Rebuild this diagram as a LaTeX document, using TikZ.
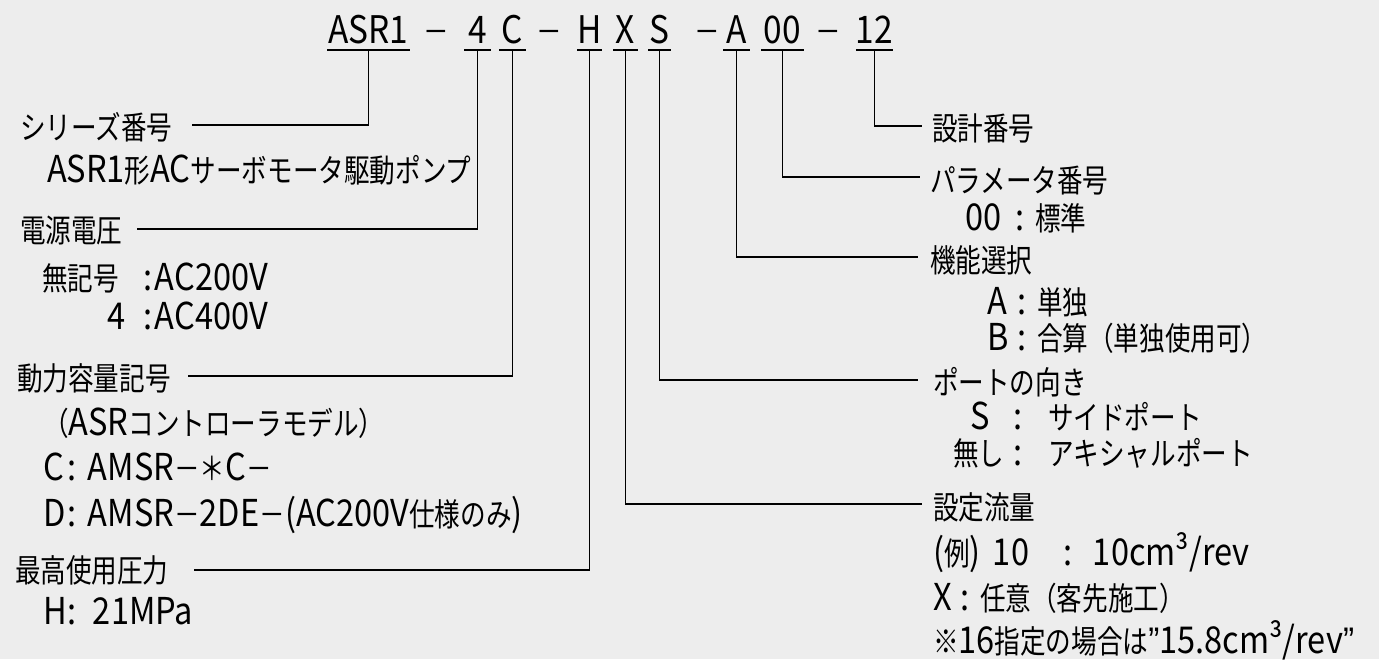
\documentclass[tikz,border=0pt]{standalone}
\usepackage{fontspec}
\setmainfont{Noto Sans CJK JP}[FakeStretch=0.88]
\newfontfamily\jpfam{Noto Sans CJK JP}[FakeStretch=0.8]
\newfontfamily\libfam{Liberation Sans}[FakeStretch=0.9]
\newcommand\J[1]{{\jpfam\fontsize{32}{32}\selectfont #1}}
\newcommand\Qt{{\libfam ”}}
\newcommand\Cl[1]{\makebox[0pt]{:}\hspace{#1}}
\begin{document}
\begin{tikzpicture}[x=1pt,y=-1pt,
  t/.style={inner sep=0pt, outer sep=0pt, anchor=base west, font=\fontsize{37}{37}\selectfont},
  hd/.style={inner sep=0pt, outer sep=0pt, anchor=base, font=\fontsize{38}{38}\selectfont, text height=28pt, text depth=7pt},
  ln/.style={line width=1.4pt, black},
]
\fill[black!7] (0,0) rectangle (1379,659);
\useasboundingbox (0,0) rectangle (1379,659);

% header
\node[hd, minimum width=83pt] (hA) at (368.5,43) {ASR1};
\node[hd] (d1) at (436,43) {\J{－}};
\node[hd, minimum width=27pt] (h4) at (477.5,43) {4};
\node[hd, minimum width=27pt] (hC) at (512.5,43) {C};
\node[hd] (d2) at (549.5,43) {\J{－}};
\node[hd, minimum width=23pt] (hH) at (589.5,43) {H};
\node[hd, minimum width=25pt] (hX) at (625.5,43) {X};
\node[hd, minimum width=23pt] (hS) at (659.5,43) {S};
\node[hd] (d3) at (707.5,43) {\J{－}};
\node[hd, minimum width=27pt] (hAA) at (736.5,43) {A};
\node[hd, minimum width=43pt] (h00) at (782.5,43) {00};
\node[hd] (d4) at (828.5,43) {\J{－}};
\node[hd, minimum width=37pt] (h12) at (874.5,43) {12};
\foreach \n in {hA,h4,hC,hH,hX,hS,hAA,h00,h12}
  \draw[ln] (\n.south west) -- (\n.south east);

% left labels
\node[t] (L1) at (20,139) {\J{シリーズ番号}};
\node[t] (L1a) at (47,182) {ASR1\J{形}AC\J{サーボモータ駆動ポンプ}};
\node[t] (L2) at (20,242) {\J{電源電圧}};
\node[t] (L2a) at (42,290) {\makebox[106pt][l]{\J{無記号}}\Cl{7pt}AC200V};
\node[t] (L2b) at (107,329) {\makebox[41pt][l]{4}\Cl{7pt}AC400V};
\node[t] (L3) at (17,390) {\J{動力容量記号}};
\node[t] (L3a) at (43,435) {\J{（}ASR\J{コントローラモデル）}};
\node[t] (L3b) at (43,480) {\makebox[29pt][l]{C}\Cl{16pt}AMSR\J{－＊}C\J{－}};
\node[t] (L3c) at (43,526) {\makebox[29pt][l]{D}\Cl{16pt}AMSR\J{－}2DE\J{－}(AC200V\J{仕様のみ})};
\node[t] (L4) at (15,582) {\J{最高使用圧力}};
\node[t] (L4a) at (43,624) {\makebox[29pt][l]{H}\Cl{21pt}21MPa};

% right labels
\node[t] (R1) at (932,140) {\J{設計番号}};
\node[t] (R2) at (930,192) {\J{パラメータ番号}};
\node[t] (R2a) at (965,230) {\makebox[55pt][l]{00}\Cl{15pt}\J{標準}};
\node[t] (R3) at (930,272) {\J{機能選択}};
\node[t] (R3a) at (987,314) {\makebox[35pt][l]{A}\Cl{15pt}\J{単独}};
\node[t] (R3b) at (987,350) {\makebox[35pt][l]{B}\Cl{15pt}\J{合算（単独使用可）}};
\node[t] (R4) at (933,394) {\J{ポートの向き}};
\node[t] (R4a) at (970,429) {\makebox[48pt][l]{S}\Cl{30pt}\J{サイドポート}};
\node[t] (R4b) at (953,465) {\makebox[65pt][l]{\J{無し}}\Cl{30pt}\J{アキシャルポート}};
\node[t] (R5) at (933,519) {\J{設定流量}};
\node[t] (R5a) at (933,565) {\makebox[60pt][l]{(\J{例})}\makebox[75pt][l]{10}\Cl{25pt}10cm³/rev};
\node[t] (R5b) at (933,610) {\makebox[32pt][l]{X}\Cl{15pt}\J{任意（客先施工）}};
\node[t] (R5c) at (933,653) {\J{※}16\J{指定の場合は}\Qt 15.8cm³/rev\Qt};

% connectors
\draw[ln] (hA.south) |- ([xshift=20pt,yshift=14pt]L1.base east);
\draw[ln] (h4.south) |- ([xshift=15pt,yshift=13pt]L2.base east);
\draw[ln] (hC.south) |- ([xshift=17pt,yshift=14pt]L3.base east);
\draw[ln] (hH.south) |- ([xshift=25pt,yshift=12pt]L4.base east);
\draw[ln] (h12.south) |- ([xshift=-10pt,yshift=14pt]R1.base west);
\draw[ln] (h00.south) |- ([xshift=-10pt,yshift=15pt]R2.base west);
\draw[ln] (hAA.south) |- ([xshift=-12pt,yshift=15pt]R3.base west);
\draw[ln] (hS.south) |- ([xshift=-15pt,yshift=14pt]R4.base west);
\draw[ln] (hX.south) |- ([xshift=-11pt,yshift=15pt]R5.base west);
\end{tikzpicture}
\end{document}
